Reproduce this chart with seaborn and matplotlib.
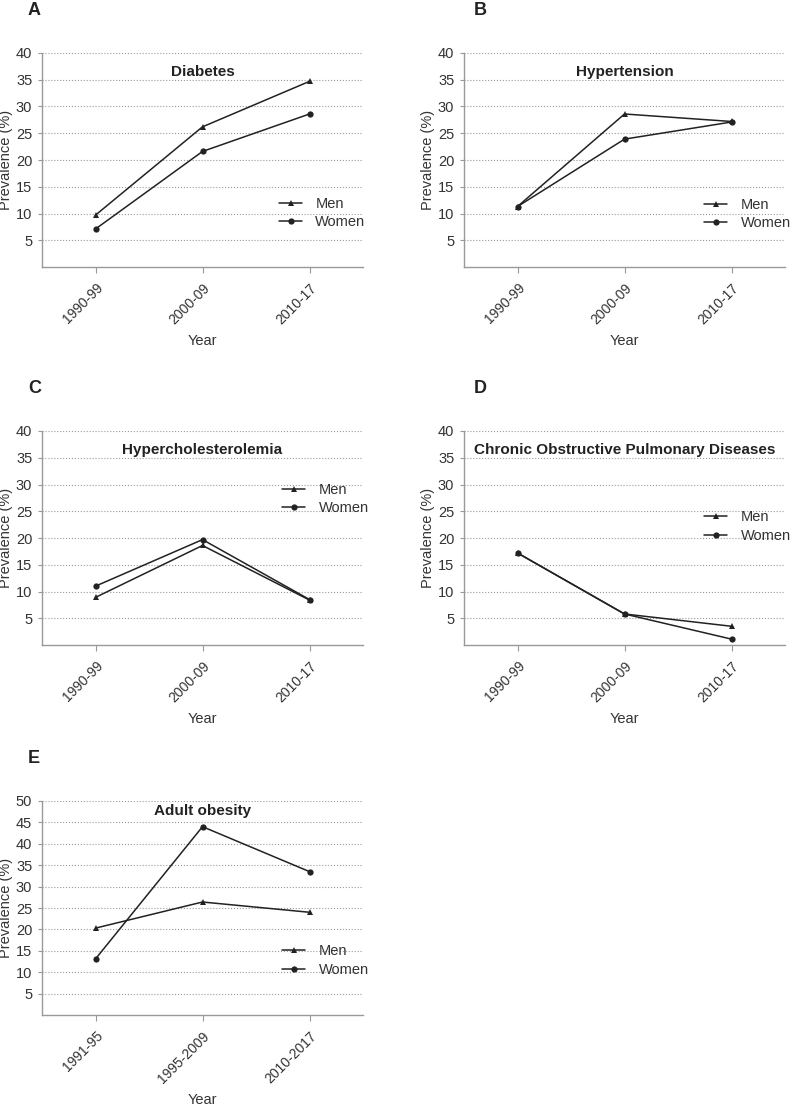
import pandas as pd
import matplotlib
matplotlib.use('Agg')
import matplotlib.pyplot as plt
import seaborn as sns

sns.set_style('white')
plt.rcParams['font.family'] = ['Liberation Sans', 'DejaVu Sans']

# Data
periods = ['1990-99', '2000-09', '2010-17']
periods_obesity = ['1991-95', '1995-2009', '2010-2017']

diabetes_men = [9.7, 26.2, 34.7]
diabetes_women = [7.1, 21.6, 28.6]
hypertension_men = [11.3, 28.6, 27.2]
hypertension_women = [11.3, 23.9, 27.1]
cholesterol_men = [8.9, 18.6, 8.4]
cholesterol_women = [11.0, 19.7, 8.5]
copd_men = [17.2, 5.8, 3.5]
copd_women = [17.2, 5.8, 1.1]
obesity_men = [20.3, 26.4, 24.0]
obesity_women = [13.1, 44.0, 33.5]

# letter, title, periods, men, women, ymax, axes corner (px), legend anchor, title y, xlabel y
panels = [
    ('A', 'Diabetes', periods, diabetes_men, diabetes_women, 40,
     [42, 53], (0.738, 0.252), 0.911, -0.315),
    ('B', 'Hypertension', periods, hypertension_men, hypertension_women, 40,
     [464, 53], (0.748, 0.248), 0.911, -0.315),
    ('C', 'Hypercholesterolemia', periods, cholesterol_men, cholesterol_women, 40,
     [42, 431], (0.748, 0.682), 0.911, -0.315),
    ('D', 'Chronic Obstructive Pulmonary Diseases', periods, copd_men, copd_women, 40,
     [464, 431], (0.748, 0.554), 0.911, -0.315),
    ('E', 'Adult obesity', periods_obesity, obesity_men, obesity_women, 50,
     [42, 801], (0.748, 0.255), 0.953, -0.365),
]

W, H = 792, 1107
fig = plt.figure(figsize=(W / 100, H / 100), dpi=100)

for letter, title, xlab, men, women, ymax, (px, py), leg_pos, ty, xly in panels:
    aw, ah = 321, 214
    ax = fig.add_axes([px / W, 1 - (py + ah) / H, aw / W, ah / H])

    df = pd.DataFrame({
        'Year': xlab + xlab,
        'Prevalence': men + women,
        'Sex': ['Men'] * 3 + ['Women'] * 3,
    })
    sns.lineplot(data=df, x='Year', y='Prevalence', style='Sex',
                 markers={'Men': '^', 'Women': 'o'}, dashes=False,
                 color='#222222', linewidth=1.1, markersize=4.5,
                 markeredgewidth=0, sort=False, ax=ax)

    # rebuild legend without the title, placed like the original
    old = ax.get_legend()
    handles = old.legend_handles
    labels = [t.get_text() for t in old.get_texts()]
    old.remove()
    ax.legend(handles, labels, frameon=False, loc='center left',
              bbox_to_anchor=leg_pos, borderpad=0, borderaxespad=0,
              handlelength=1.6, handletextpad=0.9, labelspacing=0.3,
              fontsize=10.5, labelcolor='#333333')

    ax.set_xlim(-0.5, 2.5)
    ax.set_ylim(0, ymax)
    ax.set_yticks(range(5, ymax + 1, 5))
    ax.yaxis.grid(True, linestyle=':', color='#999999', linewidth=0.8)
    ax.xaxis.grid(False)
    sns.despine(ax=ax)
    for s in ['left', 'bottom']:
        ax.spines[s].set_color('#999999')
        ax.spines[s].set_linewidth(1.0)

    ax.tick_params(axis='y', length=3, width=0.8, color='#999999',
                   labelsize=10.5, labelcolor='#333333', pad=4, left=True)
    ax.tick_params(axis='x', length=4, width=0.8, color='#999999',
                   labelsize=10, labelcolor='#333333', pad=6, bottom=True)
    plt.setp(ax.get_xticklabels(), rotation=45, ha='right',
             rotation_mode='anchor')

    ax.set_xlabel('Year', fontsize=10.5, color='#333333')
    ax.set_ylabel('Prevalence (%)', fontsize=10.5, color='#333333')
    ax.xaxis.set_label_coords(0.5, xly)
    ax.yaxis.set_label_coords(-0.09, 0.5)

    ax.text(0.5, ty, title, transform=ax.transAxes, ha='center', va='center',
            fontsize=11, fontweight='bold', color='#222222')

    lx = 28 if px < 300 else 474
    fig.text(lx / W, 1 - (py - 38) / H, letter, fontsize=13,
             fontweight='bold', color='#222222', va='baseline')

fig.savefig('out.png', dpi=100)
